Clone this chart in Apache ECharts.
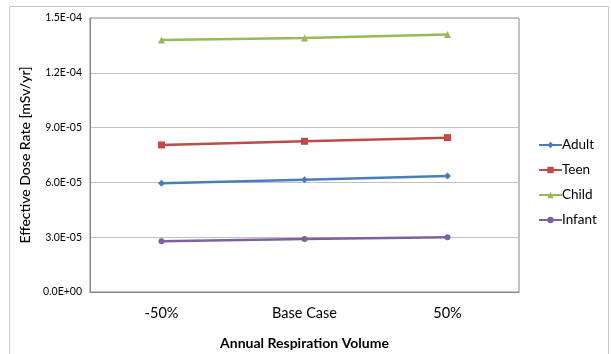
<!DOCTYPE html>
<html>
<head>
<meta charset="utf-8">
<script src="https://cdn.jsdelivr.net/npm/echarts@6/dist/echarts.min.js"></script>
<style>
  html, body { margin: 0; padding: 0; background: #fff; }
  #chart { width: 611px; height: 354px; }
</style>
</head>
<body>
<div id="chart"></div>
<script>
// Respiration volume scenarios
const categories = ['-50%', 'Base Case', '50%'];

// Effective dose rate per age group [mSv/yr]
const adult  = [5.95e-5, 6.15e-5, 6.35e-5];
const teen   = [8.05e-5, 8.25e-5, 8.45e-5];
const child  = [1.38e-4, 1.39e-4, 1.41e-4];
const infant = [2.78e-5, 2.90e-5, 3.00e-5];

const yMin = 0;
const yMax = 1.5e-4;
const yStep = 3e-5;

const FONT = 'Lato, "Liberation Sans", sans-serif';

function sci(v) {
  const [m, e] = v.toExponential(1).split('e');
  const n = parseInt(e, 10);
  const sign = n < 0 ? '-' : '+';
  const abs = Math.abs(n);
  return m + 'E' + sign + (abs < 10 ? '0' : '') + abs;
}

function lineSeries(name, data, color, symbol, size) {
  return {
    name: name,
    type: 'line',
    data: data,
    color: color,
    symbol: symbol,
    symbolSize: size,
    lineStyle: { width: 2.5, color: color },
    itemStyle: { color: color },
    emphasis: { disabled: true },
    animation: false
  };
}

const chart = echarts.init(document.getElementById('chart'), null, { renderer: 'canvas' });
chart.setOption({
  backgroundColor: '#fff',
  animation: false,
  graphic: [{
    type: 'rect',
    shape: { x: 9.5, y: 6.5, width: 599, height: 360 },
    style: { fill: 'none', stroke: '#c8c8c8', lineWidth: 1 },
    silent: true,
    z: -1
  }],
  grid: {
    left: 90, top: 18, right: 92, bottom: 62,
    outerBoundsMode: 'none',
    containLabel: false,
    show: true, borderColor: '#868686', borderWidth: 1, backgroundColor: 'transparent'
  },
  legend: {
    orient: 'vertical',
    left: 533,
    top: 133,
    itemWidth: 23,
    itemHeight: 8,
    itemGap: 11,
    textStyle: { fontFamily: FONT, fontSize: 13.5, color: '#000', padding: [0, 0, 0, -5] },
    data: ['Adult', 'Teen', 'Child', 'Infant']
  },
  xAxis: {
    type: 'category',
    data: categories,
    boundaryGap: true,
    axisLine: { lineStyle: { color: '#868686', width: 1 } },
    axisTick: { alignWithLabel: true, length: 5, lineStyle: { color: '#868686' } },
    axisLabel: { fontFamily: FONT, fontSize: 14.5, color: '#000', margin: 14 },
    name: 'Annual Respiration Volume',
    nameLocation: 'middle',
    nameGap: 44,
    nameTextStyle: { fontFamily: FONT, fontSize: 14, fontWeight: 'bold', color: '#000' }
  },
  yAxis: {
    type: 'value',
    min: yMin,
    max: yMax,
    interval: yStep,
    axisLine: { show: true, lineStyle: { color: '#868686' } },
    axisTick: { show: false },
    splitLine: { lineStyle: { color: '#c0c0c0', width: 1 } },
    axisLabel: { fontFamily: FONT, fontSize: 10.5, color: '#000', margin: 8, formatter: sci },
    name: 'Effective Dose Rate [mSv/yr]',
    nameLocation: 'middle',
    nameGap: 57,
    nameTextStyle: { fontFamily: FONT, fontSize: 14, fontWeight: 500, color: '#000' }
  },
  series: [
    lineSeries('Adult', adult, '#4a7ebb', 'diamond', 7),
    lineSeries('Teen', teen, '#be4b48', 'rect', 7),
    lineSeries('Child', child, '#98b954', 'triangle', 7),
    lineSeries('Infant', infant, '#7d60a0', 'circle', 6)
  ]
});
</script>
</body>
</html>
